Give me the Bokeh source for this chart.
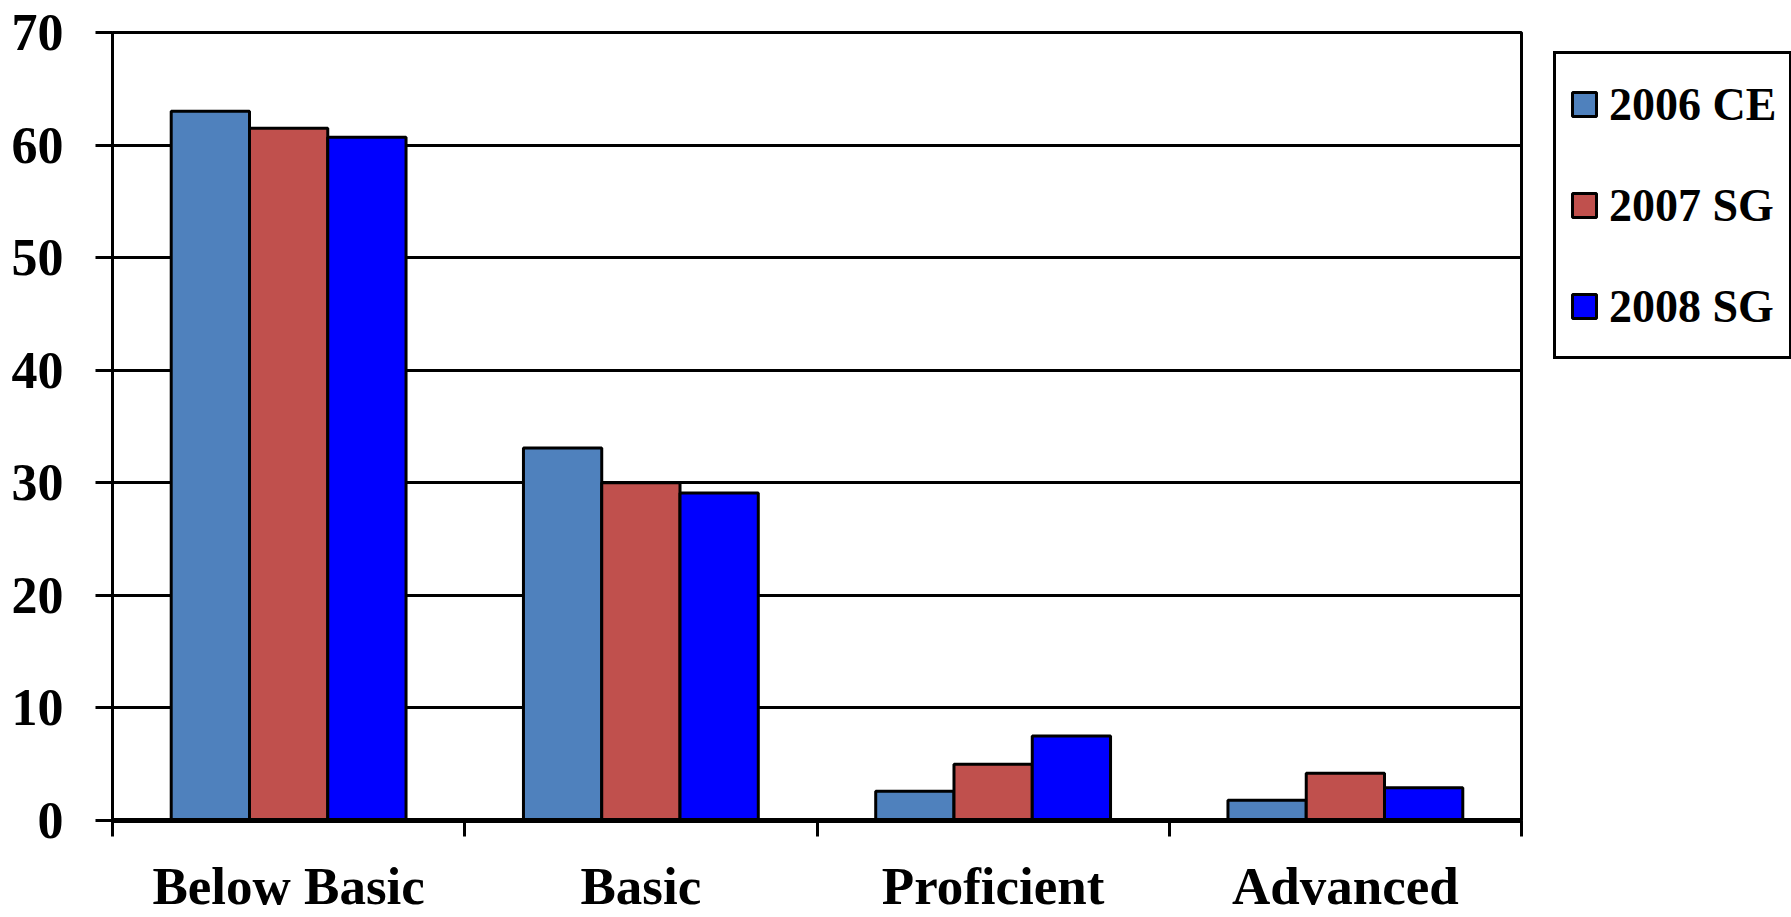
from bokeh.plotting import figure
from bokeh.models import (ColumnDataSource, Range1d, FixedTicker, Legend, LegendItem)
from bokeh.transform import dodge
from bokeh.layouts import row
from bokeh.embed import file_html
from bokeh.resources import INLINE

categories = ["Below Basic", "Basic", "Proficient", "Advanced"]
series_names = ["2006 CE", "2007 SG", "2008 SG"]
values_2006_ce = [63.0, 33.1, 2.6, 1.8]
values_2007_sg = [61.5, 30.0, 5.0, 4.2]
values_2008_sg = [60.7, 29.1, 7.5, 2.9]
colors = ["#4F81BD", "#C0504D", "#0000FF"]
y_ticks = [0, 10, 20, 30, 40, 50, 60, 70]

FONT = "Liberation Serif"

centers = [i + 0.5 for i in range(len(categories))]
source = ColumnDataSource(data=dict(
    x=centers,
    cat=categories,
    s0=values_2006_ce,
    s1=values_2007_sg,
    s2=values_2008_sg,
))
cols = ["s0", "s1", "s2"]

p = figure(width=1524, height=917, output_backend="svg", toolbar_location=None,
           x_range=Range1d(0, 4), y_range=Range1d(0, 70),
           min_border_left=112, min_border_top=32, min_border_right=3,
           min_border_bottom=97)

bw = 2.0 / 9.0
for k, col in enumerate(cols):
    p.vbar(x=dodge("x", (k - 1) * bw, range=p.x_range), top=col, width=bw,
           bottom=0, source=source, fill_color=colors[k],
           line_color="black", line_width=3)

# grid
p.xgrid.grid_line_color = None
p.ygrid.grid_line_color = "black"
p.ygrid.grid_line_width = 3
p.ygrid.ticker = FixedTicker(ticks=y_ticks)

# outline
p.outline_line_color = "black"
p.outline_line_width = 3
p.outline_line_alpha = 1.0
p.background_fill_color = "white"
p.border_fill_color = "white"

# y axis
p.yaxis.ticker = FixedTicker(ticks=y_ticks)
p.yaxis.axis_line_color = "black"
p.yaxis.axis_line_width = 3
p.yaxis.major_tick_line_color = "black"
p.yaxis.major_tick_line_width = 3
p.yaxis.major_tick_out = 17
p.yaxis.major_tick_in = 0
p.yaxis.minor_tick_line_color = None
p.yaxis.major_label_text_font = FONT
p.yaxis.major_label_text_font_style = "bold"
p.yaxis.major_label_text_font_size = "52px"
p.yaxis.major_label_text_color = "black"
p.yaxis.major_label_standoff = 32

# x axis: labels at category centers, ticks at category boundaries
p.xaxis.ticker = FixedTicker(ticks=centers, minor_ticks=[0, 1, 2, 3, 4])
p.xaxis.major_label_overrides = {c: name for c, name in zip(centers, categories)}
p.xaxis.axis_line_color = "black"
p.xaxis.axis_line_width = 5
p.xaxis.major_tick_line_color = None
p.xaxis.minor_tick_line_color = "black"
p.xaxis.minor_tick_line_width = 3
p.xaxis.minor_tick_out = 16
p.xaxis.minor_tick_in = 0
p.xaxis.major_tick_out = 16
p.xaxis.major_label_text_font = FONT
p.xaxis.major_label_text_font_style = "bold"
p.xaxis.major_label_text_font_size = "53px"
p.xaxis.major_label_text_color = "black"
p.xaxis.major_label_standoff = 20

# legend panel (separate figure to the right of the chart)
lf = figure(width=267, height=917, output_backend="svg", toolbar_location=None,
            x_range=Range1d(0, 1), y_range=Range1d(0, 1),
            x_axis_type=None, y_axis_type=None, min_border=0)
lf.outline_line_color = None
lf.xgrid.grid_line_color = None
lf.ygrid.grid_line_color = None
lf.background_fill_color = "white"
lf.border_fill_color = "white"

legend_renderers = []
for k, col in enumerate(cols):
    r = lf.vbar(x=dodge("x", (k - 1) * bw), top=col, width=bw, bottom=0,
                source=source, fill_color=colors[k], line_color="black",
                line_width=3, visible=False)
    legend_renderers.append(r)

legend = Legend(
    items=[LegendItem(label=n, renderers=[r]) for n, r in zip(series_names, legend_renderers)],
    location=(29, 461),
    margin=0,
    padding=13,
    spacing=27,
    glyph_width=30,
    glyph_height=30,
    label_standoff=10,
    label_height=74,
    label_text_font=FONT,
    label_text_font_style="bold",
    label_text_font_size="46px",
    label_text_color="black",
    border_line_color="black",
    border_line_width=3,
    border_line_alpha=1.0,
    background_fill_color="white",
    background_fill_alpha=1.0,
    inactive_fill_alpha=0.0,
)
lf.add_layout(legend, "center")

layout = row(p, lf)
open("out.html", "w").write(file_html(layout, INLINE))
